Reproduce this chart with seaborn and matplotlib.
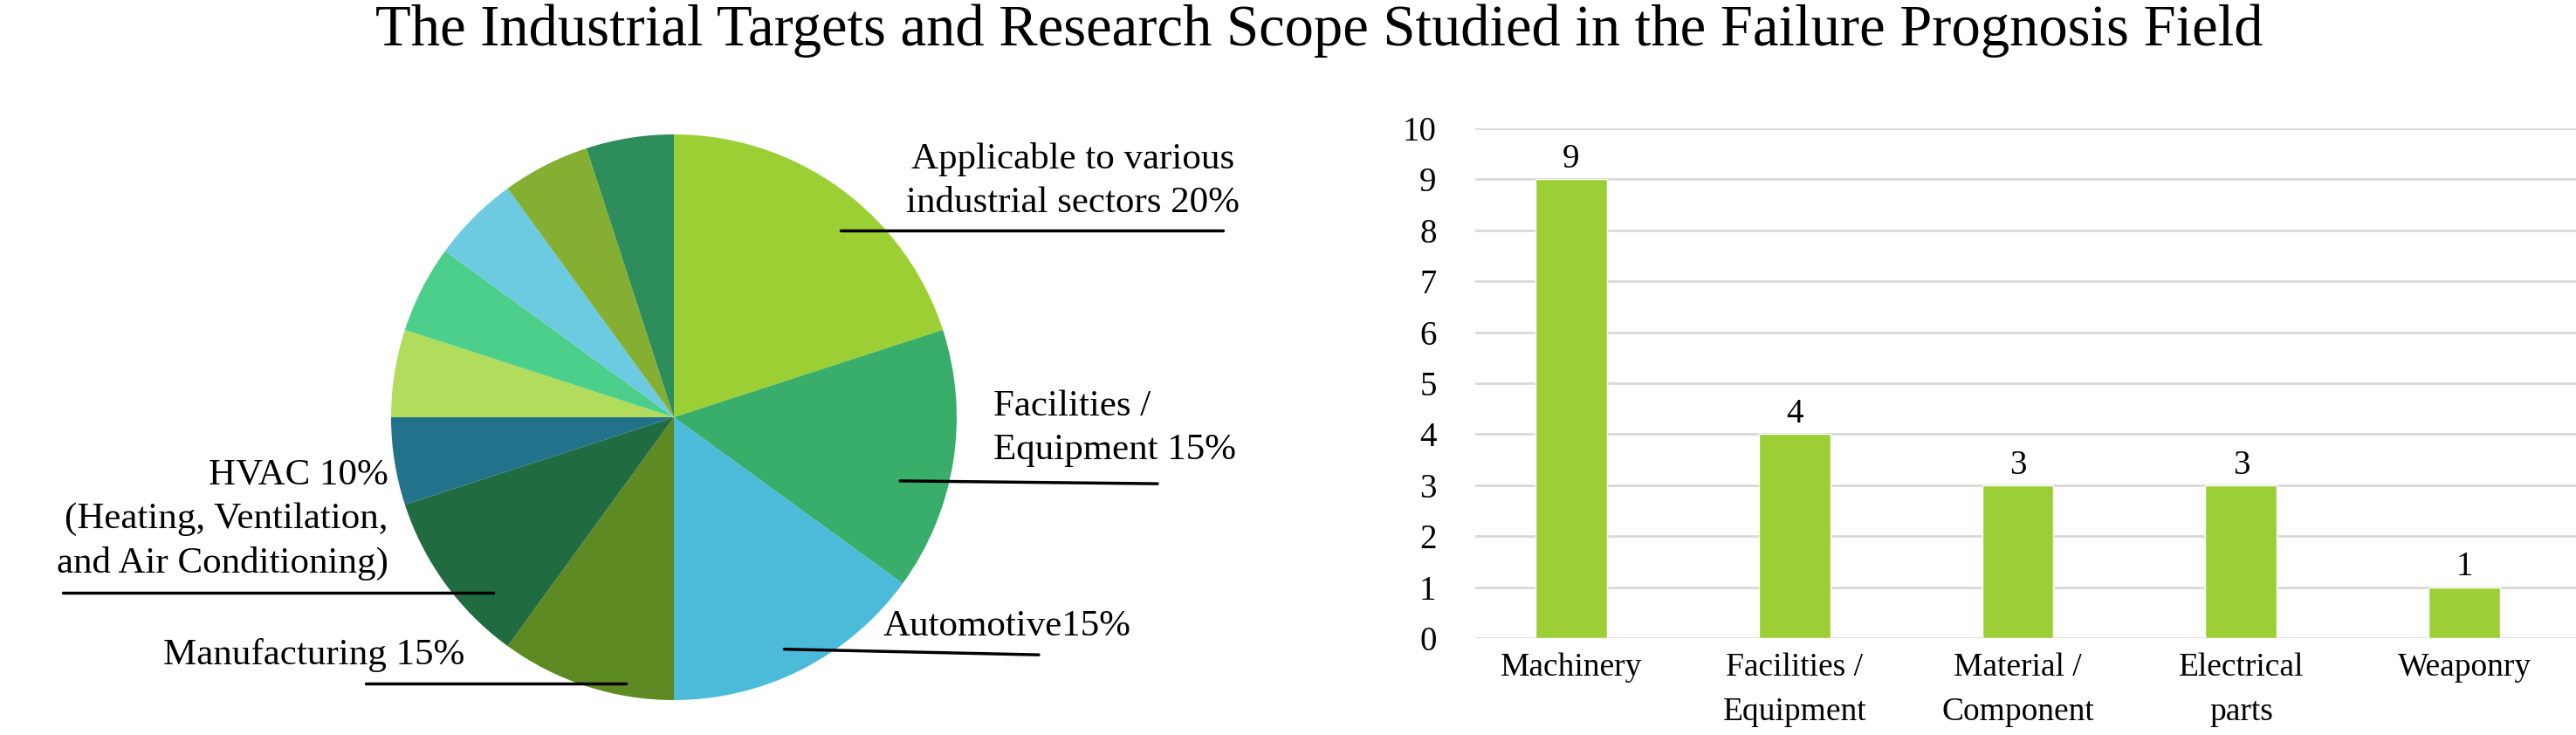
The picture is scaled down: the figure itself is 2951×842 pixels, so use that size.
import matplotlib
matplotlib.use("Agg")
import matplotlib.pyplot as plt
import seaborn as sns
import pandas as pd

# pie data (clockwise from 12 o'clock)
pie_shares = [20, 15, 15, 10, 10, 5, 5, 5, 5, 5, 5]
pie_colors = ["#9BCF33", "#38AE6A", "#4CBBDA", "#5E8A24", "#216B40",
              "#23728C", "#B1DC5C", "#4CCF8B", "#6CCAE1", "#84AF33", "#2D8D5B"]
pie_texts = [
    "Applicable to various\nindustrial sectors 20%",
    "Facilities /\nEquipment 15%",
    "Automotive15%",
    "Manufacturing 15%",
    "HVAC 10%\n(Heating, Ventilation,\nand Air Conditioning)",
]

# bar data
bar_cats = ["Machinery", "Facilities /\nEquipment", "Material /\nComponent",
            "Electrical\nparts", "Weaponry"]
bar_counts = [9, 4, 3, 3, 1]

title = "The Industrial Targets and Research Scope Studied in the Failure Prognosis Field"

sns.set_style("white")
plt.rcParams["font.family"] = ["Liberation Serif", "DejaVu Serif"]
plt.rcParams["text.color"] = "black"
plt.rcParams["xtick.color"] = "black"
plt.rcParams["ytick.color"] = "black"

W, H = 2951, 842
fig = plt.figure(figsize=(W / 100, H / 100), dpi=100)

# ---- pie ----
cx, cy, r = 772, 478, 324  # pixel centre / radius of the pie
ax_pie = fig.add_axes([0, 0, 1550 / W, 742 / H])
ax_pie.pie(pie_shares, colors=pie_colors, startangle=90, counterclock=False,
           wedgeprops=dict(linewidth=0))
ax_pie.set_xlim(-cx / r, (1550 - cx) / r)
ax_pie.set_ylim((cy - 842) / r, (cy - 100) / r)
ax_pie.set_aspect("equal")
ax_pie.axis("off")

# (text x, text y, ha, leader x0, leader x1, leader y0, leader y1)
label_layout = [
    (1.41, 0.835, "center", 0.59, 1.94, 0.66, 0.66),
    (1.13, -0.04, "left", 0.80, 1.71, -0.225, -0.235),
    (0.74, -0.74, "left", 0.39, 1.29, -0.82, -0.84),
    (-0.74, -0.84, "right", -1.09, -0.17, -0.94, -0.94),
    (-1.01, -0.36, "right", -2.16, -0.64, -0.62, -0.62),
]
for txt, (tx, ty, ha, x0, x1, y0, y1) in zip(pie_texts, label_layout):
    ax_pie.text(tx, ty, txt, ha=ha, va="center", fontsize=31,
                multialignment="center" if ha == "center" else ha,
                linespacing=1.4)
    ax_pie.plot([x0, x1], [y0, y1], color="black", lw=2.5)

# ---- bars ----
ax_bar = fig.add_axes([1690 / W, (H - 731) / H, (W - 1690) / W, 584 / H])
df = pd.DataFrame({"cat": bar_cats, "count": bar_counts})
sns.barplot(data=df, x="cat", y="count", color="#9CCF36", saturation=1,
            width=0.32, ax=ax_bar, zorder=3)
ax_bar.bar_label(ax_bar.containers[0], fontsize=28, padding=3)
ax_bar.set_ylim(0, 10)
ax_bar.set_xlim(-0.43, 4.5)
ax_bar.set_yticks(range(0, 11))
ax_bar.yaxis.grid(True, color="#D9D9D9", lw=2)
ax_bar.set_axisbelow(True)
ax_bar.set_xlabel("")
ax_bar.set_ylabel("")
for s in ax_bar.spines.values():
    s.set_visible(False)
ax_bar.tick_params(axis="y", length=0, labelsize=28, pad=32)
ax_bar.tick_params(axis="x", length=0, labelsize=27, pad=12)
for lbl in ax_bar.get_xticklabels():
    lbl.set_linespacing(1.6)
    lbl.set_verticalalignment("top")

fig.text(0.512, 0.995, title, ha="center", va="top", fontsize=48)

fig.savefig("out.png", dpi=100)
